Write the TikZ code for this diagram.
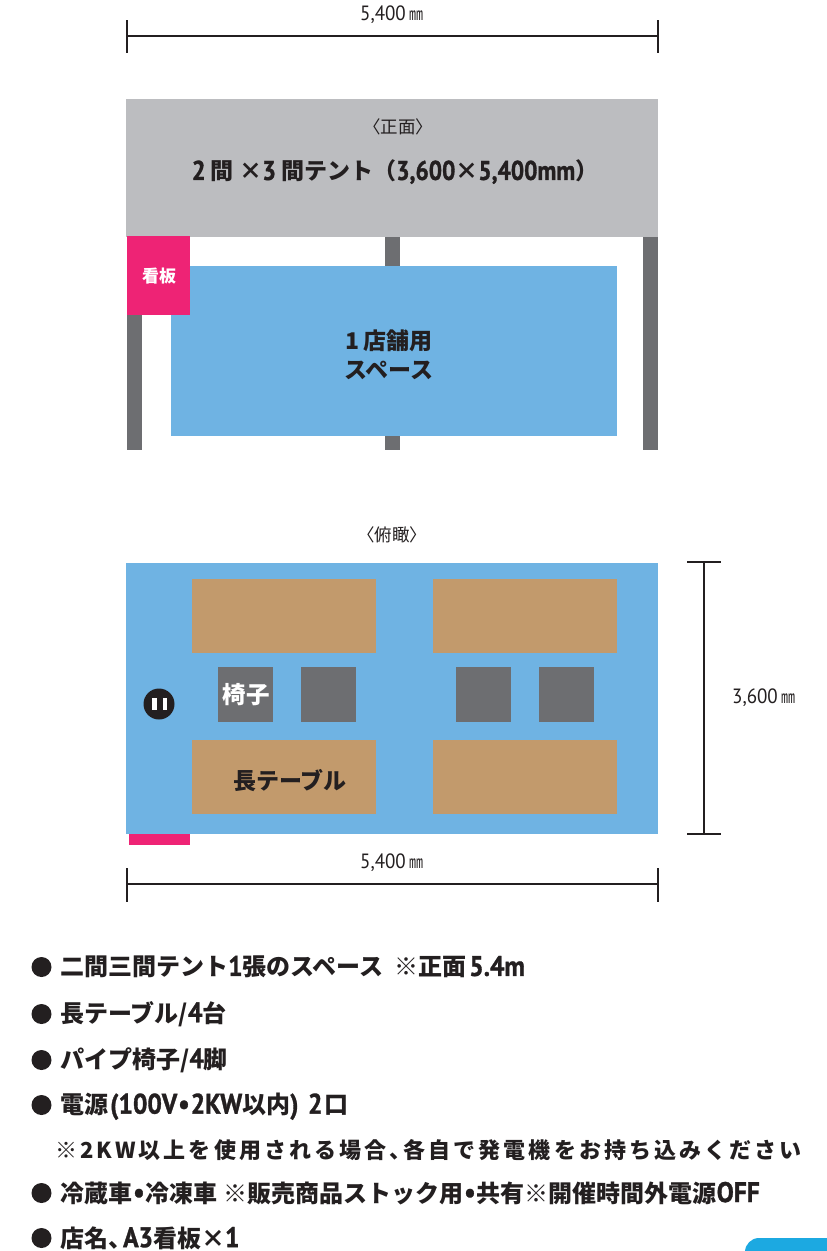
\documentclass[tikz,border=0pt]{standalone}
\usepackage{fontspec}
\setmainfont{Noto Sans CJK JP}
\newfontfamily\la[Scale=1.18,BoldFeatures={FakeStretch=0.9,FakeBold=1.2}]{PT Sans}
\newfontfamily\spc[LetterSpace=14]{Noto Sans CJK JP}
\definecolor{tentgray}{HTML}{BCBDC0}
\definecolor{pole}{HTML}{6D6E71}
\definecolor{pinkc}{HTML}{EE2375}
\definecolor{bluec}{HTML}{6FB3E3}
\definecolor{tablec}{HTML}{C29A6C}
\definecolor{inkc}{HTML}{231F20}
\definecolor{cyanc}{HTML}{1CA9E1}
\tikzset{
  box/.style={inner sep=0pt,outer sep=0pt,anchor=north west},
  dimline/.style={draw=inkc,line width=2.4pt},
  dimlabel/.style={inner sep=0pt,text=inkc,font=\fontsize{17.5}{17.5}\selectfont},
  listline/.style={inner sep=0pt,anchor=west,text=inkc,font=\fontsize{24}{24}\selectfont\bfseries},
  bold/.style={inner sep=0pt,text=inkc,font=\fontsize{#1}{#1}\selectfont\bfseries,align=center},
}
\newcommand{\rectnode}[6]{\node[box,fill=#6,minimum width=#4pt-#2pt,minimum height=#5pt-#3pt] (#1) at (#2,#3) {};}
\newcommand{\mmlabel}[1]{{\la\scalebox{.92}[1]{#1}}\kern4pt{\scalebox{.8}[1]{㎜}}}
\newcommand{\nb}{{\la\kern1pt•\kern1pt}}
\begin{document}
\begin{tikzpicture}[x=1pt,y=-1pt]
\useasboundingbox (0,0) rectangle (827,1251);
% dimensions
\coordinate (t1) at (127,36); \coordinate (t2) at (658,36);
\coordinate (t1a) at (127,20); \coordinate (t1b) at (127,53);
\coordinate (t2a) at (658,20); \coordinate (t2b) at (658,53);
\draw[dimline] (t1) -- (t2); \draw[dimline] (t1a) -- (t1b); \draw[dimline] (t2a) -- (t2b);
\node[dimlabel] (ltop) at (392,15) {\mmlabel{5,400}};
% front view
\rectnode{p1}{127}{236}{142}{450}{pole}
\rectnode{p2}{385}{236}{400}{450}{pole}
\rectnode{p3}{643}{236}{658}{450}{pole}
\rectnode{roof}{126}{99}{658}{237}{tentgray}
\rectnode{space}{171}{266}{617}{436}{bluec}
\rectnode{sign}{127}{236}{190}{315}{pinkc}
\node[dimlabel] (lfront) at (398,127) {〈正面〉};
\node[bold=23] (ltitle) at (392,172) {\kern6pt{\la 2} 間 ×{\la 3} 間テント（{\la\scalebox{.96}[1]{3,600}}×{\la\scalebox{.96}[1]{5,400mm}}）};
\node[bold=17,text=white] (lsign) at (159,276) {看板};
\node[bold=23] (lspace) at (389,354.5) {1\,店舗用\\[6pt]スペース};
% top view
\node[dimlabel] (ltopv) at (392,535) {〈俯瞰〉};
\rectnode{sign2}{129}{830}{190}{845}{pinkc}
\rectnode{floor}{126}{563}{658}{834}{bluec}
\rectnode{ta}{191.5}{579}{376}{653}{tablec}
\rectnode{tb}{433}{579}{617}{653}{tablec}
\rectnode{tc}{191.5}{740}{376}{813.5}{tablec}
\rectnode{td}{433}{740}{617}{813.5}{tablec}
\rectnode{ca}{218}{667}{273}{722}{pole}
\rectnode{cb}{301}{667}{356}{722}{pole}
\rectnode{cc}{456}{667}{511}{722}{pole}
\rectnode{cd}{539}{667}{594}{722}{pole}
\node[bold=23.5,text=white] (lchair) at (246,695) {椅子};
\node[bold=23] (ltable) at (290,781) {長テーブル};
\node[circle,fill=inkc,minimum size=31pt,inner sep=0pt] (outlet) at (159,704) {};
\rectnode{o1}{152}{698}{156.5}{710}{white}
\rectnode{o2}{162.5}{698}{167}{710}{white}
% right dimension
\coordinate (r1) at (704,562); \coordinate (r2) at (704,834);
\coordinate (r1a) at (687,562); \coordinate (r1b) at (721,562);
\coordinate (r2a) at (687,834); \coordinate (r2b) at (721,834);
\draw[dimline] (r1) -- (r2); \draw[dimline] (r1a) -- (r1b); \draw[dimline] (r2a) -- (r2b);
\node[dimlabel] (lright) at (764,698) {\mmlabel{3,600}};
% bottom dimension
\coordinate (b1) at (127,884); \coordinate (b2) at (658,884);
\coordinate (b1a) at (127,868); \coordinate (b1b) at (127,902);
\coordinate (b2a) at (658,868); \coordinate (b2b) at (658,902);
\draw[dimline] (b1) -- (b2); \draw[dimline] (b1a) -- (b1b); \draw[dimline] (b2a) -- (b2b);
\node[dimlabel] (lbot) at (392,863) {\mmlabel{5,400}};
% list
\foreach \n/\y in {a/967,b/1014,c/1060,d/1105,f/1193,g/1238}{
  \node[circle,fill=inkc,minimum size=20pt,inner sep=0pt] (bul\n) at (41.5,\y) {};
}
\node[listline] (la) at (60,967) {二間三間テント{\la 1}張のスペース\kern5pt{} ※正面{\la\kern3pt 5.4m}};
\node[listline] (lb) at (60,1014) {長テーブル/{\la 4}台};
\node[listline] (lc) at (60,1060) {パイプ椅子/{\la 4}脚};
\node[listline] (ld) at (60,1106.5) {電源\kern2pt{\la (100V}\nb{\la 2KW}以内{\la)}\kern4pt{} {\la 2}\kern2pt 口};
\node[inner sep=0pt,anchor=west,text=inkc,font=\fontsize{22}{22}\selectfont\bfseries] (le) at (55,1150) {\spc ※2KW以上を使用される場合、\kern-8pt 各自で発電機をお持ち込みください};
\node[listline] (lf) at (60,1193) {冷蔵車\nb 冷凍車 ※販売商品ストック用\nb 共有※開催時間外電源{\la OFF}};
\node[listline] (lg) at (60,1238) {店名、\kern-9pt{\la A3}看板×{\la 1}};
% corner tab
\fill[cyanc,rounded corners=14pt] (745,1270) -- (745,1238) -- (850,1238) -- (850,1270) -- cycle;
\end{tikzpicture}
\end{document}
